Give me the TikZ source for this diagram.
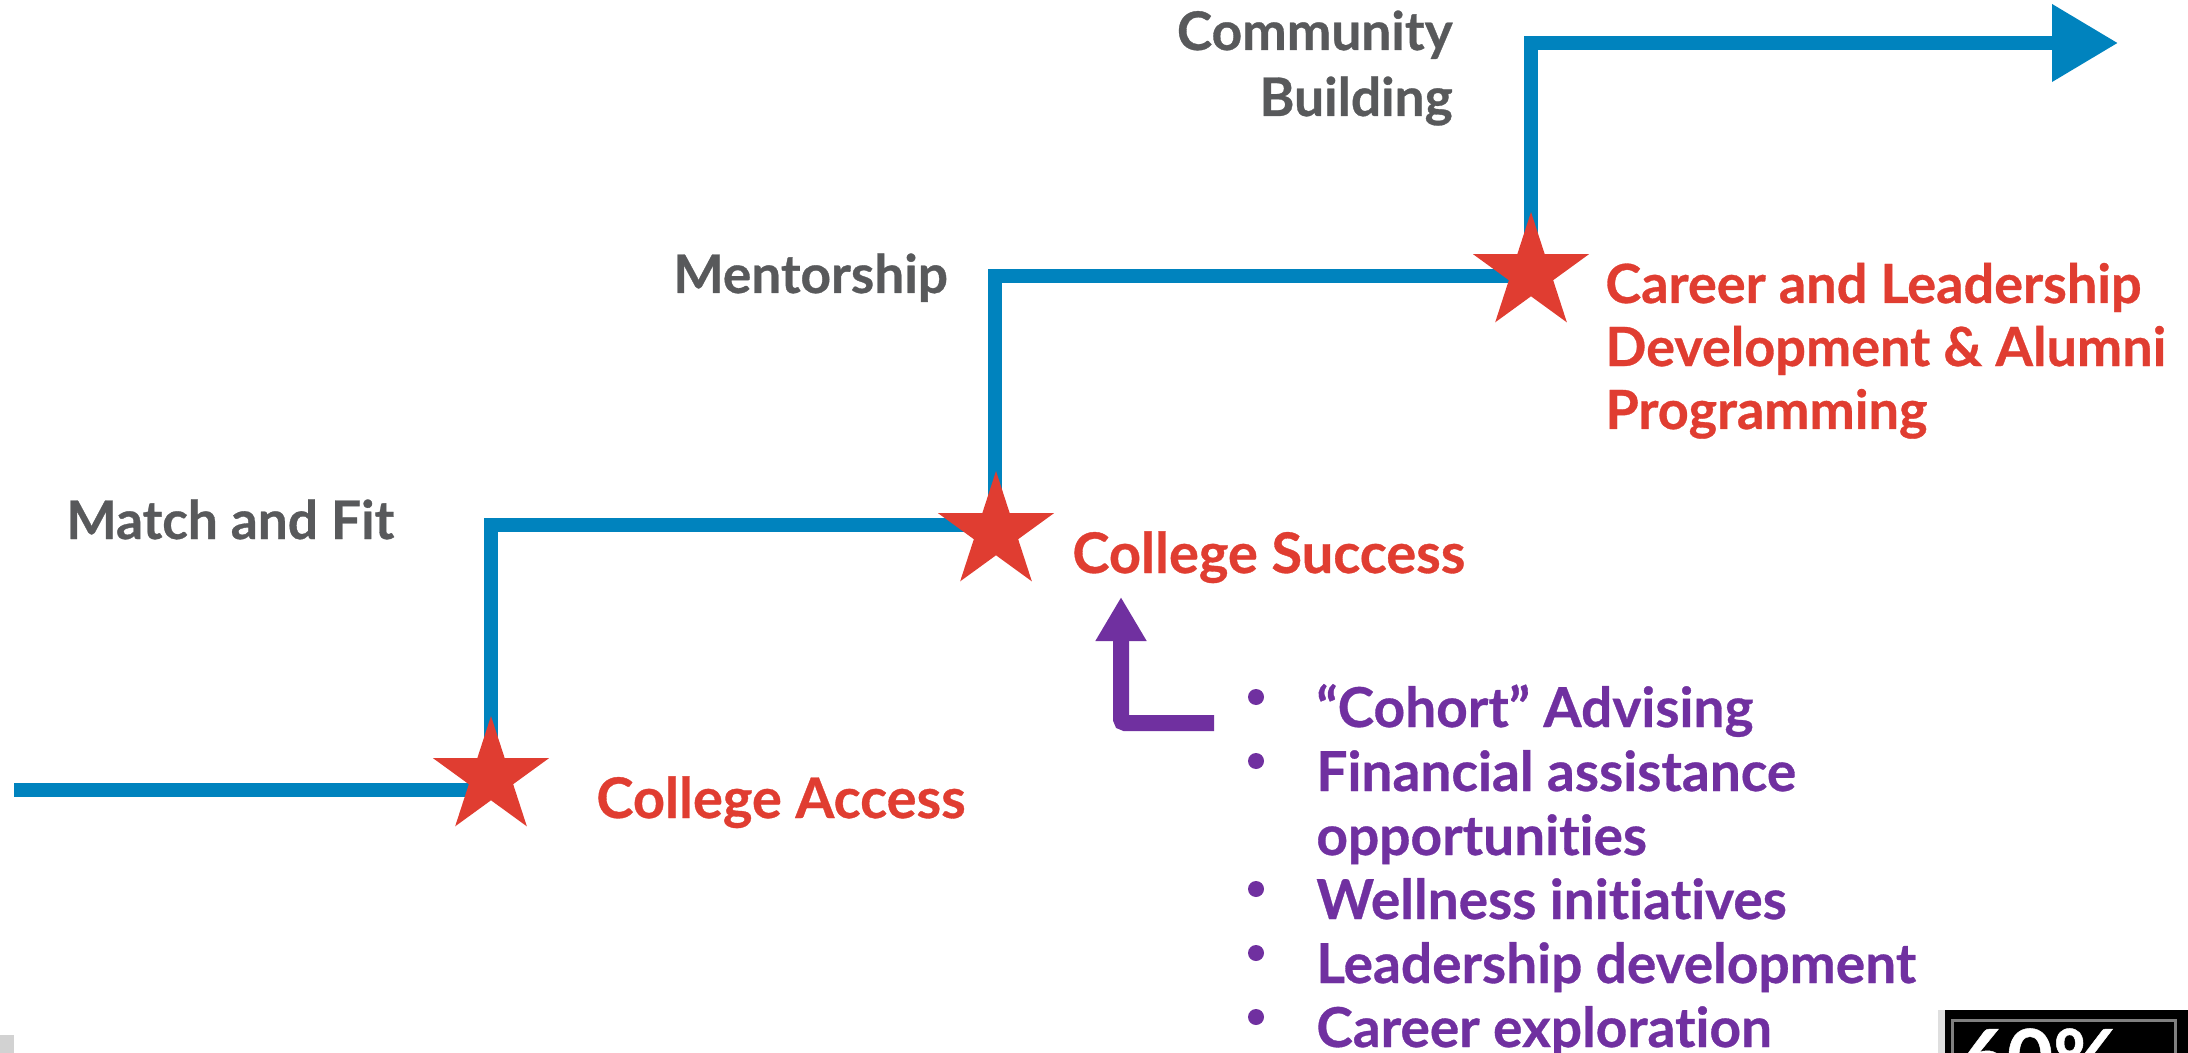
\documentclass[tikz,border=0pt]{standalone}
\usepackage{fontspec}
\setmainfont{Lato}[Ligatures=NoCommon, BoldFeatures={FakeBold=0.6}]
\usetikzlibrary{shapes.geometric, arrows.meta, positioning}
\definecolor{pathblue}{RGB}{0,131,190}
\definecolor{starred}{RGB}{224,61,49}
\definecolor{labelgray}{RGB}{88,89,91}
\definecolor{listpurple}{RGB}{112,48,160}

\begin{document}
\begin{tikzpicture}[x=0.5pt, y=-0.5pt, every node/.style={font=\fontsize{26}{32}\selectfont\bfseries, inner sep=0pt}]
\tikzstyle{milestone} = [star, star points=5, star point ratio=2.618, fill=starred, minimum size=61pt, inner sep=0pt]
\tikzstyle{stage} = [text=labelgray, anchor=base west, font=\fontsize{26.6}{32}\selectfont\bfseries]
\tikzstyle{goal} = [text=starred, anchor=base west, font=\fontsize{28}{32}\selectfont\bfseries]
\tikzstyle{item} = [text=listpurple, anchor=base west, font=\fontsize{27.5}{32}\selectfont\bfseries]
\tikzstyle{dot} = [circle, fill=listpurple, minimum size=8pt]

\useasboundingbox (0,0) rectangle (2188,1053);

\coordinate (start) at (14,790);
\coordinate (c1) at (491,790);
\coordinate (c2) at (491,525);
\coordinate (c3) at (995,525);
\coordinate (c4) at (995,276);
\coordinate (c5) at (1531,276);
\coordinate (c6) at (1531,43);
\coordinate (end) at (2118,43);

\draw[pathblue, line width=7pt, line join=miter, -{Triangle[length=33pt, width=37pt]}]
  (start) -- (c1) -- (c2) -- (c3) -- (c4) -- (c5) -- (c6) -- (end);

\node[milestone] (s1) at (491,777) {};
\node[milestone] (s2) at (996,532) {};
\node[milestone] (s3) at (1531,273) {};

\node[stage] (match) at (66,539) {Match and Fit};
\node[stage] (mentor) at (673,293) {Mentorship};
\node[stage, anchor=base east] (community) at (1453,50) {Community};
\node[stage, anchor=base east] (building) at (1453,116) {Building};

\node[goal] (access) at (596,818) {College Access};
\node[goal] (success) at (1072,573) {College Success};
\node[goal, font=\fontsize{27}{32}\selectfont\bfseries] (career1) at (1605,303) {Career and Leadership};
\node[goal, font=\fontsize{27}{32}\selectfont\bfseries] (career2) at (1605,366) {Development \& Alumni};
\node[goal, font=\fontsize{27}{32}\selectfont\bfseries] (career3) at (1605,429) {Programming};

\node[item] (i1) at (1316,727) {“Cohort” Advising};
\node[item] (i2) at (1316,791) {Financial assistance};
\node[item] (i3) at (1316,855) {opportunities};
\node[item] (i4) at (1316,919) {Wellness initiatives};
\node[item] (i5) at (1316,983) {Leadership development};
\node[item] (i6) at (1316,1047) {Career exploration};

\node[dot] (b1) at (1256,697) {};
\node[dot] (b2) at (1256,761) {};
\node[dot] (b4) at (1256,889) {};
\node[dot] (b5) at (1256,953) {};
\node[dot] (b6) at (1256,1017) {};

\coordinate (tail) at (1214,723);
\coordinate (elbow) at (1121,723);
\coordinate (tip) at (1121,597);
\draw[listpurple, line width=8pt, rounded corners=2pt, -{Triangle[length=22pt, width=24pt]}]
  (tail) -- (elbow) -- (tip);

\fill[gray!35] (0,1035) rectangle (14,1053);
\begin{scope}
\clip (1938,1010) rectangle (2188,1053);
\fill[black] (1938,1010) rectangle (2188,1053);
\fill[gray!25] (1938,1010) rectangle (1945,1053);
\draw[gray, line width=1.5pt] (1952,1060) -- (1952,1020) -- (2175,1020) -- (2175,1060);
\node[text=white, anchor=north west, font=\fontsize{40}{44}\selectfont\bfseries] (badge) at (1960,1028) {60\%};
\end{scope}
\end{tikzpicture}
\end{document}
